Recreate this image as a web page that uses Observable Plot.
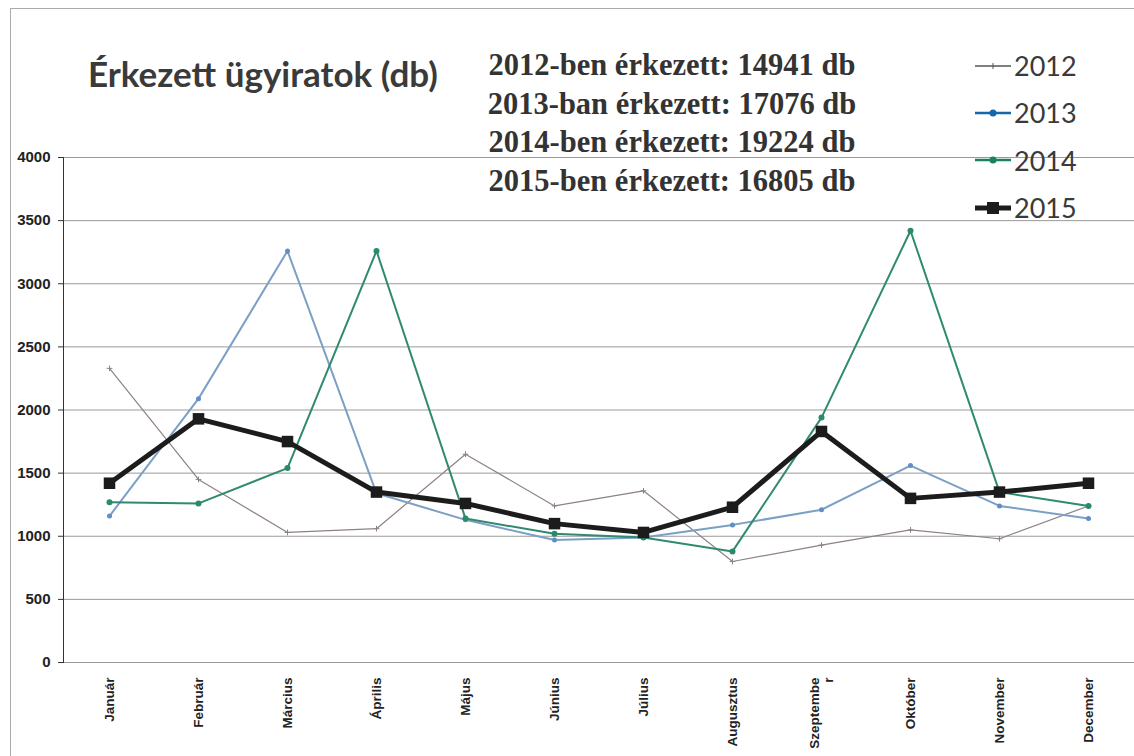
<!DOCTYPE html>
<html><head><meta charset="utf-8">
<script src="https://cdn.jsdelivr.net/npm/d3@7"></script>
<script src="https://cdn.jsdelivr.net/npm/@observablehq/plot@0.6"></script>
<style>
body{margin:0;background:#fff;}
#wrap{position:relative;width:1134px;height:756px;overflow:hidden;background:#fff;}
#chart{position:absolute;left:0;top:0;}
#border{position:absolute;left:10px;top:8px;width:1200px;height:800px;border-left:1px solid #aaa;border-top:1px solid #aaa;}
.title{position:absolute;left:88px;top:52px;font:bold 35px Lato,"Open Sans",sans-serif;color:#3a3a3a;white-space:nowrap;}
.ann{position:absolute;left:472px;width:400px;top:46px;text-align:center;font:bold 30.5px "Liberation Serif","DejaVu Serif",serif;color:#333;line-height:38.7px;white-space:nowrap;}
.legend{position:absolute;left:975px;top:42px;}
.lrow{height:47.3px;display:flex;align-items:center;font:27px Lato,"Liberation Sans",sans-serif;color:#3a3a3a;}
.lrow svg{margin-right:2px;}
</style></head>
<body>
<div id="wrap">
  <div id="border"></div>
  <div id="chart"></div>
  <div class="title" id="title"></div>
  <div class="ann" id="ann"></div>
  <div class="legend" id="legend"></div>
</div>
<script>
const months = ["Január","Február","Március","Április","Május","Június","Július","Augusztus","Szeptember","Október","November","December"];
const monthLabels = ["Január","Február","Március","Április","Május","Június","Július","Augusztus","Szeptembe\nr","Október","November","December"];
const years = ["2012","2013","2014","2015"];
const v2012 = [2330, 1450, 1030, 1060, 1650, 1240, 1360, 800, 930, 1050, 980, 1240];
const v2013 = [1160, 2090, 3260, 1340, 1130, 970, 990, 1090, 1210, 1560, 1240, 1140];
const v2014 = [1270, 1260, 1540, 3260, 1140, 1020, 990, 880, 1940, 3420, 1350, 1240];
const v2015 = [1420, 1930, 1750, 1350, 1260, 1100, 1030, 1230, 1830, 1300, 1350, 1420];
const totals = ["14941", "17076", "19224", "16805"];
const suffixes = ["ben", "ban", "ben", "ben"];
const yTicks = [0, 500, 1000, 1500, 2000, 2500, 3000, 3500, 4000];
const titleText = "Érkezett ügyiratok (db)";

const series = [v2012, v2013, v2014, v2015];
const styles = {
  "2012": {stroke: "#8e8088", width: 1.2, symbol: "plus", r: 2, fill: "#8e8088"},
  "2013": {stroke: "#7c9fc6", width: 2, symbol: "circle", r: 2.5, fill: "#5f8fc4"},
  "2014": {stroke: "#2f8a70", width: 2, symbol: "circle", r: 3, fill: "#2a8a6c"},
  "2015": {stroke: "#1c1c1c", width: 5, symbol: "square", r: 6.5, fill: "#1c1c1c"}
};
const legendColors = {"2012": "#555", "2013": "#1666ad", "2014": "#1b7f62", "2015": "#1c1c1c"};

const data = [];
years.forEach((yr, i) => months.forEach((m, j) => data.push({year: yr, month: m, value: series[i][j]})));
const labelOf = new Map(months.map((m, i) => [m, monthLabels[i]]));

const marks = [
  Plot.ruleY(yTicks, {stroke: "#9a9a9a", strokeWidth: 1}),
  Plot.axisY({ticks: yTicks, tickSize: 5, tickPadding: 8, fontWeight: "bold", fontSize: 15, label: null, stroke: "#333", tickFormat: d => String(d)}),
  Plot.axisX({tickRotate: -90, tickSize: 0, tickPadding: 15, fontWeight: "bold", fontSize: 13.5, label: null, tickFormat: d => labelOf.get(d)}),
  Plot.frame({anchor: "left", stroke: "#333"})
];
for (const yr of years) {
  const s = styles[yr];
  const d = data.filter(e => e.year === yr);
  marks.push(Plot.line(d, {x: "month", y: "value", stroke: s.stroke, strokeWidth: s.width, strokeLinejoin: "round"}));
  if (s.symbol === "plus") {
    marks.push(Plot.dot(d, {x: "month", y: "value", symbol: "plus", r: s.r, stroke: s.fill, strokeWidth: 1}));
  } else {
    marks.push(Plot.dot(d, {x: "month", y: "value", symbol: s.symbol, r: s.r, fill: s.fill, stroke: "none"}));
  }
}

const plot = Plot.plot({
  width: 1134, height: 756,
  marginTop: 157, marginBottom: 94, marginLeft: 63, marginRight: 0,
  x: {type: "point", domain: months, padding: 0.5},
  y: {domain: [0, 4000]},
  style: {fontFamily: "'Liberation Sans', Arial, sans-serif", color: "#222", background: "transparent"},
  marks
});
document.getElementById("chart").appendChild(plot);

document.getElementById("title").textContent = titleText;
document.getElementById("ann").innerHTML = years.map((y, i) => `${y}-${suffixes[i]} érkezett: ${totals[i]} db`).join("<br>");

const leg = document.getElementById("legend");
for (const yr of years) {
  const c = legendColors[yr];
  const row = document.createElement("div");
  row.className = "lrow";
  let marker = "";
  if (yr === "2012") marker = `<line x1="0" y1="8" x2="36" y2="8" stroke="${c}" stroke-width="1.5"/><line x1="18" y1="5" x2="18" y2="11" stroke="${c}" stroke-width="1"/>`;
  else if (yr === "2015") marker = `<line x1="0" y1="8" x2="36" y2="8" stroke="${c}" stroke-width="5"/><rect x="12" y="2" width="12" height="12" fill="${c}"/>`;
  else marker = `<line x1="0" y1="8" x2="36" y2="8" stroke="${c}" stroke-width="2.5"/><circle cx="18" cy="8" r="3.5" fill="${c}"/>`;
  row.innerHTML = `<svg width="37" height="16">${marker}</svg><span>${yr}</span>`;
  leg.appendChild(row);
}
</script>
</body></html>
